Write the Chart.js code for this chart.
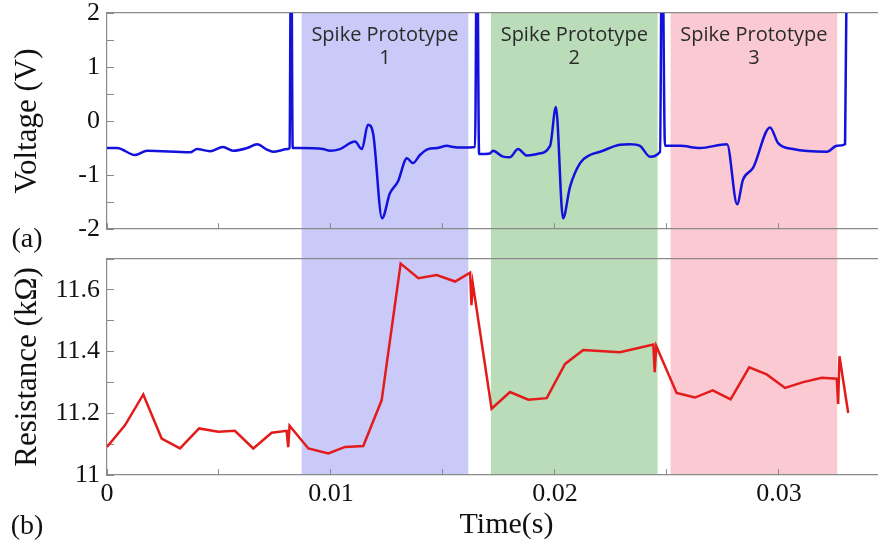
<!DOCTYPE html>
<html>
<head>
<meta charset="utf-8">
<script src="https://cdn.jsdelivr.net/npm/chart.js@4.4.1/dist/chart.umd.min.js"></script>
<style>
  html, body { margin: 0; padding: 0; background: #fff; overflow: hidden; }
</style>
</head>
<body>
<canvas id="chart" width="906" height="546"></canvas>
<script>
// top panel: voltage trace
const voltageTime = [0, 0.00045, 0.00125, 0.00179, 0.00371, 0.00402, 0.0046, 0.00518, 0.00563, 0.00625,
  0.0067, 0.00714, 0.00741, 0.00808, 0.00815, 0.00822, 0.00829, 0.00862, 0.00964, 0.00996,
  0.0104, 0.01107, 0.01138, 0.01165, 0.01188, 0.01228, 0.01263, 0.01299, 0.01339, 0.01366,
  0.01397, 0.01433, 0.01473, 0.01518, 0.01545, 0.01585, 0.01643, 0.01652, 0.01661, 0.0171,
  0.01723, 0.01768, 0.01799, 0.01835, 0.01875, 0.0192, 0.01978, 0.02004, 0.02036, 0.02067,
  0.02112, 0.02156, 0.02201, 0.0229, 0.02335, 0.02379, 0.02424, 0.02469, 0.02478, 0.02491,
  0.02558, 0.02647, 0.02768, 0.02813, 0.02839, 0.02884, 0.0296, 0.02996, 0.03063, 0.03214,
  0.03259, 0.03295, 0.03304];
const voltageValues = [-0.5, -0.5, -0.63, -0.55, -0.58, -0.52, -0.56, -0.48, -0.55, -0.5,
  -0.43, -0.53, -0.57, -0.52, -0.5, 4, -0.5, -0.5, -0.52, -0.55,
  -0.52, -0.38, -0.52, -0.07, -0.23, -1.8, -1.34, -1.12, -0.69, -0.78,
  -0.63, -0.52, -0.5, -0.46, -0.48, -0.49, -0.48, 4, -0.61, -0.6,
  -0.55, -0.66, -0.67, -0.52, -0.64, -0.61, -0.46, 0.26, -1.8, -1.22,
  -0.78, -0.63, -0.57, -0.44, -0.43, -0.46, -0.66, -0.57, 4, -0.46,
  -0.46, -0.5, -0.43, -1.54, -1.09, -0.87, -0.12, -0.41, -0.52, -0.57,
  -0.46, -0.43, 4];

// bottom panel: resistance trace
const resistanceTime = [0, 0.0008, 0.00162, 0.00244, 0.00326, 0.00411, 0.00497, 0.00571, 0.00653, 0.00735,
  0.00802, 0.00809, 0.00815, 0.00899, 0.00988, 0.01063, 0.01144, 0.01226, 0.01311, 0.0139,
  0.01472, 0.01554, 0.01621, 0.01627, 0.01633, 0.01717, 0.01799, 0.01881, 0.01963, 0.02045,
  0.02126, 0.0229, 0.02439, 0.02445, 0.02452, 0.02543, 0.02625, 0.02704, 0.02784, 0.02867,
  0.02945, 0.03027, 0.03108, 0.03191, 0.03258, 0.03264, 0.0327, 0.03309];
const resistanceValues = [11.091, 11.161, 11.261, 11.118, 11.086, 11.151, 11.14, 11.143, 11.086, 11.137,
  11.143, 11.09, 11.16, 11.086, 11.07, 11.091, 11.094, 11.242, 11.685, 11.638,
  11.648, 11.627, 11.656, 11.55, 11.62, 11.215, 11.269, 11.244, 11.249, 11.36,
  11.405, 11.398, 11.423, 11.333, 11.418, 11.266, 11.251, 11.274, 11.245, 11.349,
  11.326, 11.282, 11.301, 11.315, 11.312, 11.23, 11.385, 11.201];

// shaded spike prototype windows
const prototypeStart = [0.00869, 0.01714, 0.02516];
const prototypeEnd = [0.01613, 0.02458, 0.0326];
const prototypeNames = ['1', '2', '3'];

const T_MAX = 0.03567;
const shadeColors = ['#cacaf8', '#badcb8', '#fbc9d1'];
const axisGray = '#8a8a8a';
const serif = '"Liberation Serif", "Times New Roman", serif';

const toPoints = (xs, ys) => xs.map((x, i) => ({ x: x, y: ys[i] }));

const fixWidth = (scale) => {
  scale.width = 107;
  scale.paddingTop = 0;
  scale.paddingBottom = 0;
};

const prototypeShading = {
  id: 'prototypeShading',
  beforeDraw(chart) {
    const { ctx, chartArea } = chart;
    const x = chart.scales.x;
    ctx.save();
    prototypeStart.forEach((start, i) => {
      const left = x.getPixelForValue(start);
      const right = x.getPixelForValue(prototypeEnd[i]);
      ctx.fillStyle = shadeColors[i];
      ctx.fillRect(left, chartArea.top, right - left, chartArea.bottom - chartArea.top);
    });
    ctx.restore();
  },
  afterDraw(chart) {
    const { ctx, chartArea } = chart;
    const x = chart.scales.x;
    ctx.save();
    ctx.fillStyle = '#2b2b2b';
    ctx.textAlign = 'center';
    ctx.textBaseline = 'middle';
    ctx.font = '20px "Open Sans", sans-serif';
    prototypeStart.forEach((start, i) => {
      const mid = x.getPixelForValue((start + prototypeEnd[i]) / 2);
      ctx.fillText('Spike Prototype', mid, chartArea.top + 22);
      ctx.fillText(prototypeNames[i], mid, chartArea.top + 45);
    });
    ctx.fillStyle = '#111';
    ctx.font = '28px ' + serif;
    ctx.fillText('(a)', 27, 240);
    ctx.fillText('(b)', 27, 527);
    ctx.restore();
  }
};

const tickGrid = (len) => ({
  drawOnChartArea: false,
  drawTicks: true,
  tickLength: len,
  color: axisGray,
  lineWidth: 1
});

new Chart(document.getElementById('chart'), {
  type: 'line',
  data: {
    datasets: [
      {
        label: 'Voltage',
        data: toPoints(voltageTime, voltageValues),
        xAxisID: 'x',
        yAxisID: 'y',
        borderColor: '#1212dc',
        borderWidth: 2.5,
        pointRadius: 0,
        cubicInterpolationMode: 'monotone'
      },
      {
        label: 'Resistance',
        data: toPoints(resistanceTime, resistanceValues),
        xAxisID: 'x',
        yAxisID: 'yR',
        borderColor: '#e41b1b',
        borderWidth: 2.5,
        pointRadius: 0,
        tension: 0
      }
    ]
  },
  options: {
    responsive: false,
    animation: false,
    layout: { padding: { left: 0, top: 13, right: 0, bottom: 0 } },
    plugins: {
      legend: { display: false },
      tooltip: { enabled: false }
    },
    scales: {
      x: {
        type: 'linear',
        position: 'bottom',
        min: 0,
        max: T_MAX,
        grid: tickGrid(-6),
        border: { color: axisGray, width: 1.2 },
        ticks: {
          stepSize: 0.005,
          padding: 10,
          color: '#111',
          font: { family: serif, size: 26 },
          maxRotation: 0,
          autoSkip: false,
          callback: (v) => {
            const k = Math.round(v * 1000);
            return k % 10 === 0 ? String(k / 1000) : '';
          }
        },
        title: {
          display: true,
          text: 'Time(s)',
          color: '#111',
          font: { family: serif, size: 30 },
          padding: { top: 0, bottom: 3 }
        },
        afterFit: (scale) => {
          scale.height = 71;
          scale.paddingLeft = 0;
          scale.paddingRight = 0;
        }
      },
      x2: {
        type: 'linear',
        axis: 'x',
        position: { y: -2 },
        min: 0,
        max: T_MAX,
        grid: tickGrid(-6),
        border: { color: axisGray, width: 1.2 },
        ticks: { display: false, stepSize: 0.005 }
      },
      x3: {
        type: 'linear',
        axis: 'x',
        position: { y: 2 },
        min: 0,
        max: T_MAX,
        grid: { display: false },
        border: { color: axisGray, width: 1.2 },
        ticks: { display: false }
      },
      x4: {
        type: 'linear',
        axis: 'x',
        position: { yR: 11.7 },
        min: 0,
        max: T_MAX,
        grid: { display: false },
        border: { color: axisGray, width: 1.2 },
        ticks: { display: false }
      },
      yR: {
        type: 'linear',
        position: 'left',
        stack: 'panels',
        stackWeight: 216,
        min: 11,
        max: 11.7,
        grid: tickGrid(-7),
        border: { color: axisGray, width: 1.2 },
        ticks: {
          stepSize: 0.1,
          padding: 14,
          color: '#111',
          font: { family: serif, size: 26, lineHeight: 1 },
          autoSkip: false,
          callback: (v) => {
            const k = Math.round(v * 10);
            return k % 2 === 0 ? String(k / 10) : '';
          }
        },
        title: {
          display: true,
          text: 'Resistance (kΩ)',
          color: '#111',
          font: { family: serif, size: 31 },
          padding: { top: 9, bottom: 0 }
        },
        afterFit: fixWidth
      },
      yGap: {
        type: 'linear',
        axis: 'y',
        position: 'left',
        stack: 'panels',
        stackWeight: 30,
        grid: { display: false },
        border: { display: false },
        ticks: { display: false },
        afterFit: fixWidth
      },
      y: {
        type: 'linear',
        position: 'left',
        stack: 'panels',
        stackWeight: 216,
        min: -2,
        max: 2,
        grid: tickGrid(-7),
        border: { color: axisGray, width: 1.2 },
        ticks: {
          stepSize: 0.5,
          padding: 14,
          color: '#111',
          font: { family: serif, size: 26, lineHeight: 1 },
          autoSkip: false,
          callback: (v) => (Number.isInteger(v) ? String(v) : '')
        },
        title: {
          display: true,
          text: 'Voltage (V)',
          color: '#111',
          font: { family: serif, size: 31 },
          padding: { top: 9, bottom: 0 }
        },
        afterFit: fixWidth
      }
    }
  },
  plugins: [prototypeShading]
});
</script>
</body>
</html>
